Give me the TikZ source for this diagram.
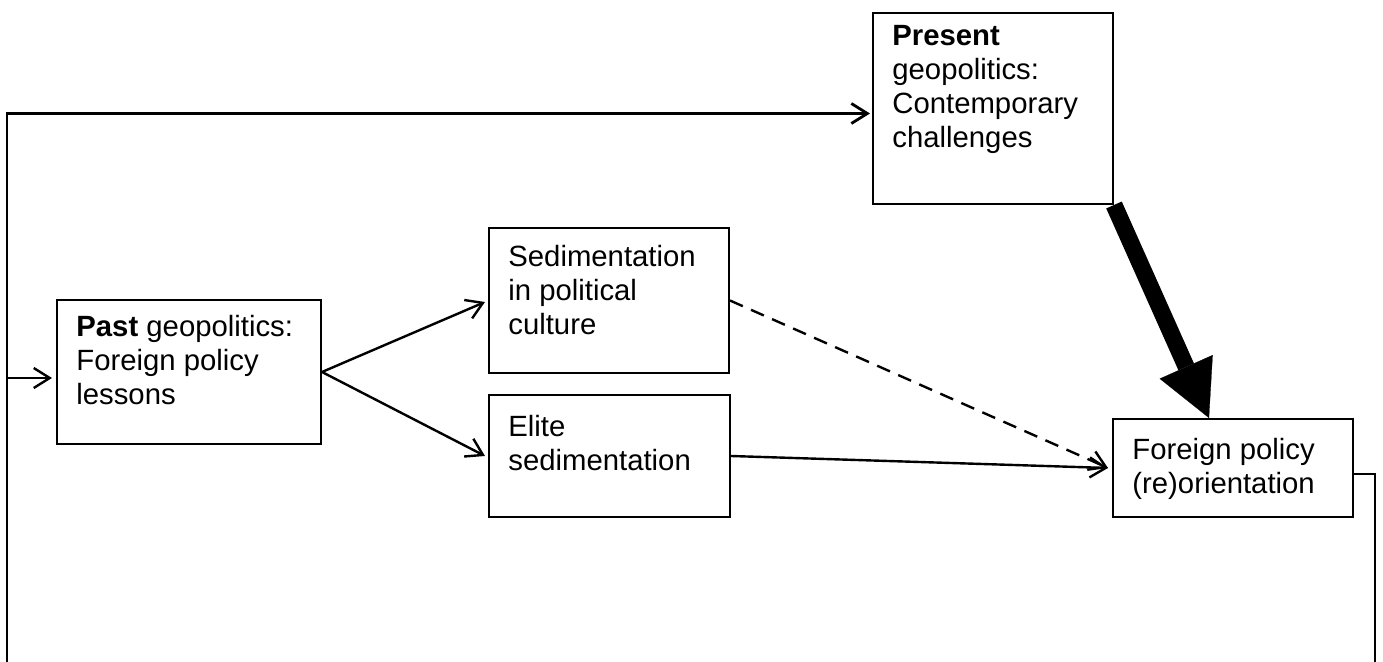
\documentclass[tikz,border=0pt]{standalone}
\usepackage{fontspec}
\setmainfont{Liberation Sans}
\usetikzlibrary{arrows.meta,calc}

\begin{document}
\begin{tikzpicture}[x=0.5pt, y=-0.5pt,
  box/.style={draw, shape=rectangle, line width=1pt, anchor=north west, inner sep=0pt},
  txt/.style={anchor=north west, inner sep=0pt, align=left, font=\fontsize{14.65}{17}\selectfont},
  arr/.style={-{Straight Barb[length=8pt,width=10pt]}, line width=1.2pt},
  bigarr/.style={-{Triangle[length=28pt,width=29pt,line width=0.1pt]}, line width=8.5pt},
  loop/.style={line width=1.4pt}]
\useasboundingbox (0,0) rectangle (1383,662);

% boxes
\node (past) [box, minimum width=132pt, minimum height=72pt] at (56,299) {};
\node (past text) [txt] at (76,315) {\textbf{Past} geopolitics:\\Foreign policy\\lessons};

\node (sed) [box, minimum width=120pt, minimum height=72.5pt] at (488,227) {};
\node (sed text) [txt] at (508,245) {Sedimentation\\in political\\culture};

\node (elite) [box, minimum width=120.5pt, minimum height=61pt] at (488,394) {};
\node (elite text) [txt] at (508,415) {Elite\\sedimentation};

\node (pres) [box, minimum width=120pt, minimum height=95.5pt] at (872,12) {};
\node (pres text) [txt] at (892,25) {\textbf{Present}\\geopolitics:\\Contemporary\\challenges};

\node (fp) [box, minimum width=120pt, minimum height=49pt] at (1112,418) {};
\node (fp text) [txt] at (1132,438) {Foreign policy\\(re)orientation};

% loop ends
\coordinate (loopbl) at (7,662);
\coordinate (loopbr) at (1375,662);
\coordinate (pastin) at ([yshift=-3pt]past.west);
\coordinate (presin) at ([yshift=-2.5pt]pres.west);
\coordinate (fpout) at ([yshift=-3pt]fp.east);

\draw[arr] (past.east) -- ($(sed.north west)+(-3,75)$);
\draw[arr] (past.east) -- ([xshift=-1.5pt]elite.west);

\draw[arr, dash pattern=on 7pt off 4.5pt] (sed.east) -- ([xshift=-2pt]fp.west);
\draw[arr] (elite.east) -- ([xshift=-2pt]fp.west);

\draw[bigarr] (pres.south east) -- ($(fp.north)+(-24,0)$);

\draw[loop] (fpout) -| (loopbr);
\draw[loop, -{Straight Barb[length=8pt,width=10pt]}] (loopbl) |- ([xshift=-1pt]presin);
\draw[arr] (pastin -| loopbl) -- ([xshift=-2pt]pastin);
\end{tikzpicture}
\end{document}
